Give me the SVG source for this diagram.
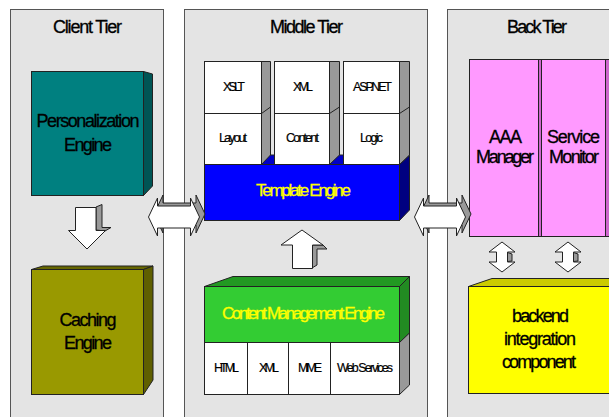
<svg xmlns="http://www.w3.org/2000/svg" width="609" height="417" viewBox="0 0 609 417">
<defs>
<style>
.panel{fill:#e4e4e4;stroke:#555;stroke-width:1}
.ln{stroke:#222;stroke-width:1}
.t{font-family:"Liberation Sans",Arial,sans-serif;text-anchor:middle;fill:#000;stroke:#000;stroke-width:0.3}
.big{font-size:18px}
.sm{font-size:12.5px;stroke-width:0.2}
.yel{fill:#ffff00;stroke:#ffff00;font-size:17px}
.arr{fill:#fff;stroke:#222;stroke-width:1;stroke-linejoin:miter}
.arrs{fill:#999;stroke:#222;stroke-width:1}
</style>
</defs>
<rect width="609" height="417" fill="#fff"/>

<g id="client-tier">
<rect class="panel" x="10.5" y="9.5" width="153" height="420"/>
<text class="t big" x="87.5" y="33" textLength="69" lengthAdjust="spacing">Client Tier</text>
</g>
<g id="middle-tier">
<rect class="panel" x="184.5" y="9.5" width="243" height="420"/>
<text class="t big" x="306.5" y="33" textLength="73" lengthAdjust="spacing">Middle Tier</text>
</g>
<g id="back-tier">
<rect class="panel" x="447.5" y="9.5" width="170" height="420"/>
<text class="t big" x="537" y="33" textLength="60" lengthAdjust="spacing">Back Tier</text>
</g>

<g id="personalization-engine">
<polygon class="ln" points="143.5,71.5 152.5,74 152.5,186 143.5,195.5" fill="#005555"/>
<rect class="ln" x="31.5" y="71.5" width="112" height="124" fill="#008080"/>
<text class="t big" x="88" y="127" textLength="103" lengthAdjust="spacing">Personalization</text>
<text class="t big" x="88" y="151" textLength="48" lengthAdjust="spacing">Engine</text>
</g>

<g id="caching-engine">
<polygon class="ln" points="31.5,269.5 43,266 153,266 143.5,269.5" fill="#666600"/>
<polygon class="ln" points="143.5,269.5 153,266 153,380 143.5,394.5" fill="#5f5f00"/>
<rect class="ln" x="31.5" y="269.5" width="112" height="125" fill="#999900"/>
<text class="t big" x="88" y="326" textLength="57" lengthAdjust="spacing">Caching</text>
<text class="t big" x="88" y="349" textLength="48" lengthAdjust="spacing">Engine</text>
</g>

<g id="template-engine">
<polygon class="ln" points="204.5,164.5 213,155 409.5,155 399.5,164.5" fill="#0000c8"/>
<polygon class="ln" points="399.5,164.5 409.5,155 409.5,210 399.5,220.5" fill="#000080"/>
<rect class="ln" x="204.5" y="164.5" width="195" height="56" fill="#0000ff"/>
<text class="t yel" x="303.5" y="196" textLength="95" lengthAdjust="spacing">Template Engine</text>
</g>

<g id="xslt-layout">
<polygon class="ln" points="261.5,61.5 270.5,61.5 270.5,155 261.5,164.5" fill="#999"/>
<line class="ln" x1="261.5" y1="113.5" x2="270.5" y2="107"/>
<rect class="ln" x="204.5" y="61.5" width="57" height="52" fill="#fff"/>
<rect class="ln" x="204.5" y="113.5" width="57" height="51" fill="#fff"/>
<text class="t sm" x="234" y="91" textLength="22" lengthAdjust="spacing">XSLT</text>
<text class="t sm" x="233" y="142" textLength="28" lengthAdjust="spacing">Layout</text>
</g>
<g id="xml-content">
<polygon class="ln" points="329.5,61.5 339.5,61.5 339.5,155 329.5,164.5" fill="#999"/>
<line class="ln" x1="329.5" y1="113.5" x2="339.5" y2="107"/>
<rect class="ln" x="274.5" y="61.5" width="55" height="52" fill="#fff"/>
<rect class="ln" x="274.5" y="113.5" width="55" height="51" fill="#fff"/>
<text class="t sm" x="303" y="91" textLength="20" lengthAdjust="spacing">XML</text>
<text class="t sm" x="302.5" y="142" textLength="33" lengthAdjust="spacing">Content</text>
</g>
<g id="aspnet-logic">
<polygon class="ln" points="399.5,61.5 409.5,61.5 409.5,155 399.5,164.5" fill="#999"/>
<line class="ln" x1="399.5" y1="113.5" x2="409.5" y2="107"/>
<rect class="ln" x="343.5" y="61.5" width="56" height="52" fill="#fff"/>
<rect class="ln" x="343.5" y="113.5" width="56" height="51" fill="#fff"/>
<text class="t sm" x="372.5" y="91" textLength="39" lengthAdjust="spacing">ASP.NET</text>
<text class="t sm" x="371.5" y="142" textLength="23" lengthAdjust="spacing">Logic</text>
</g>

<g id="content-management-engine">
<polygon class="ln" points="204.5,286.5 233,276.5 409.5,276.5 399.5,286.5" fill="#229922"/>
<polygon class="ln" points="399.5,286.5 409.5,276.5 409.5,333 399.5,342.5" fill="#228b22"/>
<polygon class="ln" points="399.5,342.5 409.5,333 409.5,385 399.5,394.5" fill="#999"/>
<rect class="ln" x="204.5" y="286.5" width="195" height="56" fill="#33cc33"/>
<text class="t yel" x="303.5" y="319" textLength="163" lengthAdjust="spacing">Content Management Engine</text>
<rect class="ln" x="204.5" y="342.5" width="195" height="52" fill="#fff"/>
<line class="ln" x1="247.5" y1="342.5" x2="247.5" y2="394.5"/>
<line class="ln" x1="288.5" y1="342.5" x2="288.5" y2="394.5"/>
<line class="ln" x1="330.5" y1="342.5" x2="330.5" y2="394.5"/>
<text class="t sm" x="226.5" y="372" textLength="25" lengthAdjust="spacing">HTML</text>
<text class="t sm" x="269" y="372" textLength="20" lengthAdjust="spacing">XML</text>
<text class="t sm" x="310" y="372" textLength="24" lengthAdjust="spacing">MIME</text>
<text class="t sm" x="365" y="372" textLength="56" lengthAdjust="spacing">Web Services</text>
</g>

<g id="aaa-manager">
<rect class="ln" x="469.5" y="59.5" width="69" height="177" fill="#ff99ff"/>
<rect class="ln" x="538.5" y="59.5" width="3" height="177" fill="#cc66cc"/>
<text class="t big" x="505.5" y="143" textLength="33" lengthAdjust="spacing">AAA</text>
<text class="t big" x="505" y="163" textLength="58" lengthAdjust="spacing">Manager</text>
</g>
<g id="service-monitor">
<rect class="ln" x="605.5" y="59.5" width="6" height="177" fill="#cc66cc"/>
<rect class="ln" x="541.5" y="59.5" width="64" height="177" fill="#ff99ff"/>
<text class="t big" x="573.5" y="143" textLength="53" lengthAdjust="spacing">Service</text>
<text class="t big" x="574" y="163" textLength="50" lengthAdjust="spacing">Monitor</text>
</g>

<g id="backend-integration-component">
<polygon class="ln" points="468.5,286.5 492,278.5 612,278.5 612,286.5" fill="#cccc00"/>
<rect class="ln" x="468.5" y="286.5" width="145" height="107" fill="#ffff00"/>
<text class="t big" x="540.5" y="322" textLength="57" lengthAdjust="spacing">backend</text>
<text class="t big" x="540" y="345" textLength="72" lengthAdjust="spacing">integration</text>
<text class="t big" x="539" y="368" textLength="74" lengthAdjust="spacing">component</text>
</g>

<g id="connectors">
<g id="arrow-down">
<polygon class="arrs" points="96,207 102,204.5 102,227.5 111,227.5 105,231 96,230"/>
<polygon class="arr" points="75.5,207.5 96,207.5 96,230.5 105.5,230.5 87,249 68.5,230.5 75.5,230.5"/>
</g>
<g id="arrow-up">
<polygon class="arrs" points="312,245 323,245 327,249 317,249 317,265 312,268"/>
<polygon class="arr" points="302,230 323,245 312.5,245 312.5,268.5 292.5,268.5 292.5,245 281,245"/>
</g>
<g id="arrow-client-middle">
<polygon class="arrs" points="154,214 163,195 163,203 196,203 196,195 205,214 196,233 196,225 163,225 163,233"/>
<polygon class="arr" points="148.5,217 157.5,198 157.5,206 190.5,206 190.5,198 199.5,217 190.5,236 190.5,228 157.5,228 157.5,236"/>
</g>
<g id="arrow-middle-back">
<polygon class="arrs" points="420,214 429,195 429,203 462,203 462,195 471,214 462,233 462,225 429,225 429,233"/>
<polygon class="arr" points="414.5,217 423.5,198 423.5,206 456.5,206 456.5,198 465.5,217 456.5,236 456.5,228 423.5,228 423.5,236"/>
</g>
<g id="arrow-aaa-backend">
<polygon class="arr" points="502,242 515,252 507.5,252 507.5,262 515,262 502,272 489,262 496.5,262 496.5,252 489,252"/>
<polygon class="arrs" points="507.5,252.5 512,254 512,261 507.5,261.5"/>
</g>
<g id="arrow-service-backend">
<polygon class="arr" points="568,242 581,252 573.5,252 573.5,262 581,262 568,272 555,262 562.5,262 562.5,252 555,252"/>
<polygon class="arrs" points="573.5,252.5 578,254 578,261 573.5,261.5"/>
</g>
</g>
</svg>
